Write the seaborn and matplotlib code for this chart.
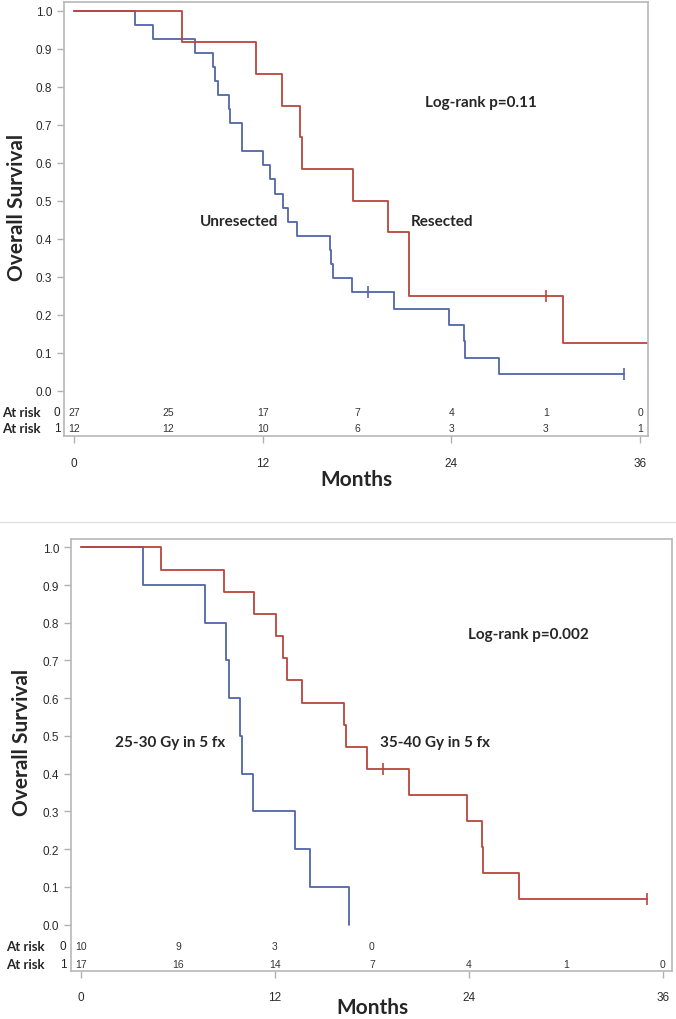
import pandas as pd
import matplotlib
matplotlib.use("Agg")
import matplotlib.pyplot as plt
import seaborn as sns
from matplotlib.lines import Line2D
from matplotlib.transforms import blended_transform_factory

sns.set_style("white")
plt.rcParams['font.family'] = ['Liberation Sans', 'DejaVu Sans']

RED = "#b8463d"
BLUE = "#5166a8"
BOLD = ['Lato', 'DejaVu Sans']

# ---- top panel: resected vs unresected (KM step points, months / survival)
res_t = [0, 6.85, 11.6, 13.25, 14.4, 14.47, 17.75, 19.95, 21.3, 31.1, 36.6]
res_s = [1.0, 0.917, 0.833, 0.75, 0.667, 0.583, 0.5, 0.417, 0.25, 0.125, 0.125]
res_cens_t = [30.0]
res_cens_s = [0.25]

unres_t = [0, 3.86, 5.0, 7.7, 8.86, 8.97, 9.14, 9.86, 9.92, 10.67, 12.04, 12.43,
           12.8, 13.27, 13.63, 14.16, 16.28, 16.35, 16.5, 17.7, 20.34, 23.86,
           24.79, 24.85, 27.04, 35.0]
unres_s = [1.0, 0.963, 0.926, 0.889, 0.852, 0.815, 0.778, 0.741, 0.704, 0.630,
           0.593, 0.556, 0.519, 0.481, 0.444, 0.407, 0.370, 0.333, 0.296, 0.259,
           0.216, 0.173, 0.130, 0.086, 0.043, 0.043]
unres_cens_t = [18.68, 35.0]
unres_cens_s = [0.259, 0.043]

# ---- bottom panel: dose groups
hi_t = [0, 4.97, 8.83, 10.69, 12.07, 12.48, 12.77, 13.66, 16.3, 16.38, 17.68,
        20.32, 23.87, 24.81, 24.88, 27.09, 35.04]
hi_s = [1.0, 0.941, 0.882, 0.824, 0.765, 0.706, 0.647, 0.588, 0.529, 0.471,
        0.412, 0.343, 0.274, 0.206, 0.137, 0.069, 0.069]
hi_cens_t = [18.71, 35.04]
hi_cens_s = [0.412, 0.069]

lo_t = [0, 3.86, 7.65, 8.95, 9.14, 9.87, 9.94, 10.66, 13.24, 14.19, 16.58]
lo_s = [1.0, 0.9, 0.8, 0.7, 0.6, 0.5, 0.4, 0.3, 0.2, 0.1, 0.0]

# ---- numbers at risk
risk_months = [0, 6, 12, 18, 24, 30, 36]
top_risk_0 = [27, 25, 17, 7, 4, 1, 0]
top_risk_1 = [12, 12, 10, 6, 3, 3, 1]
bot_risk_0 = [10, 9, 3, 0]
bot_risk_1 = [17, 16, 14, 7, 4, 1, 0]

y_ticks = [0.0, 0.1, 0.2, 0.3, 0.4, 0.5, 0.6, 0.7, 0.8, 0.9, 1.0]
x_ticks = [0, 12, 24, 36]


def km_line(ax, t, s, color):
    df = pd.DataFrame({'Months': t, 'Survival': s})
    sns.lineplot(data=df, x='Months', y='Survival', ax=ax, color=color,
                 drawstyle='steps-post', estimator=None, sort=False, linewidth=1.3)


def censor_marks(ax, t, s, color):
    sns.scatterplot(x=t, y=s, ax=ax, marker='|', s=70, color=color, linewidth=1.2)


def style_axes(ax, xlim, ylim, risk0, risk1, row_y, lab_x):
    ax.set_xlim(*xlim)
    ax.set_ylim(*ylim)
    ax.set_yticks(y_ticks)
    ax.set_yticklabels(['%.1f' % v for v in y_ticks])
    ax.set_xticks(x_ticks)
    ax.tick_params(axis='both', direction='out', length=5, width=1, color='#b0b0b0',
                   labelsize=8.5, labelcolor='#2a2a2a', left=True, bottom=True)
    ax.tick_params(axis='x', pad=10)
    for sp in ax.spines.values():
        sp.set_color('#b8b8b8')
        sp.set_linewidth(1.2)
    ax.set_xlabel('Months', fontsize=15, fontweight='bold', family=BOLD, va='top')
    ax.set_ylabel('Overall Survival', fontsize=15, fontweight='bold', family=BOLD)

    for m, n in zip(risk_months, risk0):
        ax.text(m, row_y[0], str(n), ha='center', va='center', fontsize=7.5, color='#333333')
    for m, n in zip(risk_months, risk1):
        ax.text(m, row_y[1], str(n), ha='center', va='center', fontsize=7.5, color='#333333')
    tr = blended_transform_factory(ax.transAxes, ax.transData)
    for k, yy in enumerate(row_y):
        ax.text(lab_x[0], yy, 'At risk', transform=tr, ha='left', va='center',
                fontsize=9.5, fontweight='bold', family=BOLD, clip_on=False)
        ax.text(lab_x[1], yy, str(k), transform=tr, ha='center', va='center',
                fontsize=8.5, color='#222222', clip_on=False)


fig = plt.figure(figsize=(6.76, 10.2), dpi=100)
ax1 = fig.add_axes([0.0947, 0.5716, 0.864, 0.4255])
ax2 = fig.add_axes([0.105, 0.0474, 0.889, 0.4232])

# top
km_line(ax1, unres_t, unres_s, BLUE)
km_line(ax1, res_t, res_s, RED)
censor_marks(ax1, unres_cens_t, unres_cens_s, BLUE)
censor_marks(ax1, res_cens_t, res_cens_s, RED)
style_axes(ax1, (-0.64, 36.51), (-0.119, 1.023), top_risk_0, top_risk_1,
           (-0.056, -0.098), (-0.106, -0.012))
ax1.text(10.5, 0.447, 'Unresected', ha='center', va='center', fontsize=11,
         fontweight='bold', family=BOLD)
ax1.text(23.4, 0.447, 'Resected', ha='center', va='center', fontsize=11,
         fontweight='bold', family=BOLD)
ax1.text(25.9, 0.76, 'Log-rank p=0.11', ha='center', va='center', fontsize=11,
         fontweight='bold', family=BOLD)
ax1.yaxis.set_label_coords(-0.063, 0.528)
ax1.xaxis.set_label_coords(0.5, -0.076)

# bottom
km_line(ax2, lo_t, lo_s, BLUE)
km_line(ax2, hi_t, hi_s, RED)
censor_marks(ax2, hi_cens_t, hi_cens_s, RED)
style_axes(ax2, (-0.62, 36.57), (-0.122, 1.022), bot_risk_0, bot_risk_1,
           (-0.056, -0.104), (-0.108, -0.013))
ax2.text(5.5, 0.485, '25-30 Gy in 5 fx', ha='center', va='center', fontsize=11,
         fontweight='bold', family=BOLD)
ax2.text(21.9, 0.485, '35-40 Gy in 5 fx', ha='center', va='center', fontsize=11,
         fontweight='bold', family=BOLD)
ax2.text(27.66, 0.77, 'Log-rank p=0.002', ha='center', va='center', fontsize=11,
         fontweight='bold', family=BOLD)
ax2.yaxis.set_label_coords(-0.065, 0.53)
ax2.xaxis.set_label_coords(0.502, -0.06)

# thin separator between the two figures
fig.add_artist(Line2D([0, 1], [0.4873, 0.4873], transform=fig.transFigure,
                      color='#e2e2e2', linewidth=1))

fig.savefig('out.png', dpi=100)
